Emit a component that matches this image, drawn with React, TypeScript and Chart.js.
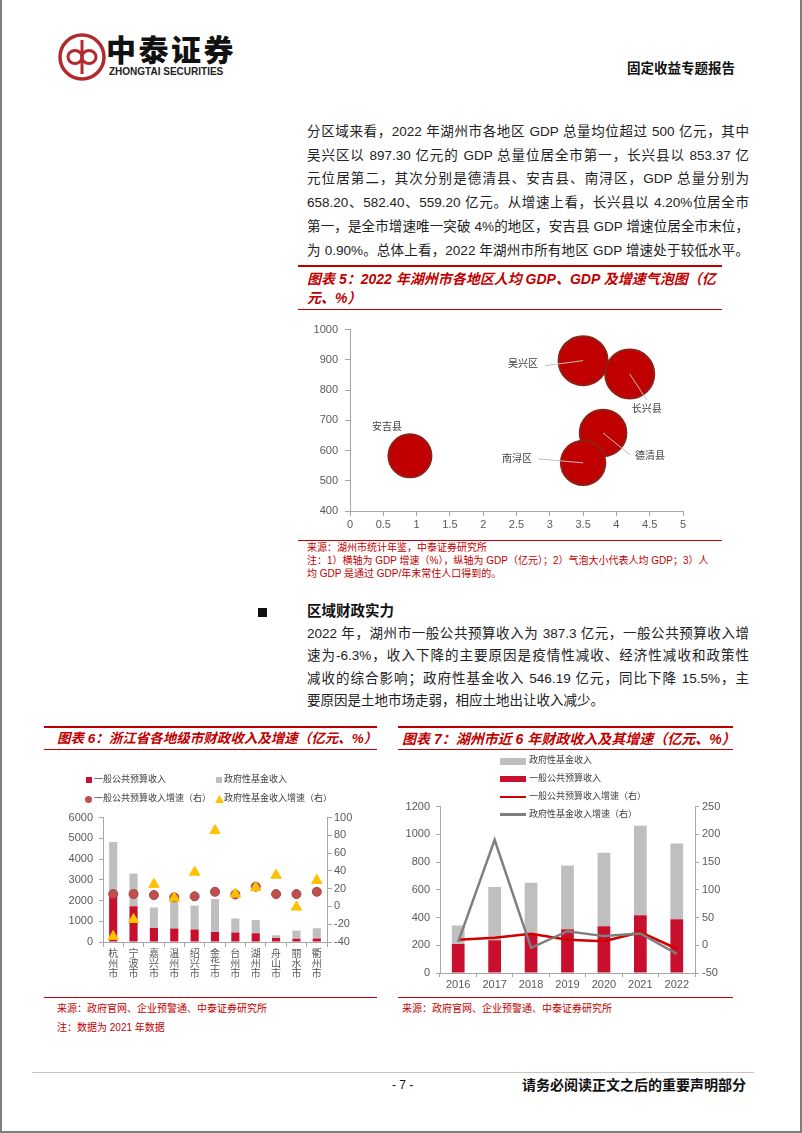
import React, { useEffect, useRef } from "react";
import { Chart, registerables } from "chart.js";

Chart.register(...registerables);

const FONT = '"Liberation Sans", "Noto Sans CJK SC", sans-serif';
const RED = "#C00000";
const AXIS = "#A6A6A6";
const TICK = "#595959";

// ---------- Chart 5 (bubble) ----------
const districts = ["吴兴区", "长兴县", "德清县", "南浔区", "安吉县"];
const gdpGrowth = [3.5, 4.2, 3.8, 3.5, 0.9]; // %
const gdpTotal = [897.3, 853.37, 658.2, 559.2, 582.4]; // 亿元
const gdpPerCapita = [13.5, 13.5, 12.2, 11.1, 10.4]; // 万元 (estimated)

// label placement (style, relative to bubble centre)
const bubbleLabelStyle = [
  { dx: -60, dy: 4, line: [-38, 5, 0, 0] },
  { dx: 17, dy: 35, line: [0, 0, 17, 26] },
  { dx: 47, dy: 23, line: [0, 0, 27, 22] },
  { dx: -66, dy: -4, line: [-45, -4, 0, 0] },
  { dx: -23, dy: -29, line: null as null | number[] },
];

// ---------- Chart 6 ----------
const cities = ["杭州市", "宁波市", "嘉兴市", "温州市", "绍兴市", "金华市", "台州市", "湖州市", "舟山市", "丽水市", "衢州市"];
const cityBudget = [2387, 1723, 676, 656, 597, 487, 455, 416, 190, 160, 165];
const cityFund = [2433, 1577, 990, 1344, 1163, 1586, 675, 644, 130, 390, 495];
const cityBudgetGrowth = [14, 14, 12.8, 10.3, 11.4, 16.5, 13.5, 22.3, 13.9, 13.9, 16.5];
const cityFundGrowth = [-33.7, -14.7, 24.9, 9.5, 38.5, 85.3, 13.9, 21.2, 35.2, -0.7, 29.3];

// ---------- Chart 7 ----------
const years = ["2016", "2017", "2018", "2019", "2020", "2021", "2022"];
const hzBudget = [210, 236, 283, 315, 338, 416, 387.3];
const hzFund = [132, 384, 367, 460, 529, 646, 546.19];
const hzBudgetGrowth = [10, 13.6, 20.7, 10, 7.1, 23.6, -6.3];
const hzFundGrowth = [6, 190, -4.7, 25.4, 16.5, 21.3, -15.5];

const para1 = [
  "分区域来看，2022 年湖州市各地区 GDP 总量均位超过 500 亿元，其中",
  "吴兴区以 897.30 亿元的 GDP 总量位居全市第一，长兴县以 853.37 亿",
  "元位居第二，其次分别是德清县、安吉县、南浔区，GDP 总量分别为",
  "658.20、582.40、559.20 亿元。从增速上看，长兴县以 4.20%位居全市",
  "第一，是全市增速唯一突破 4%的地区，安吉县 GDP 增速位居全市末位，",
  "为 0.90%。总体上看，2022 年湖州市所有地区 GDP 增速处于较低水平。",
];
const para2 = [
  "2022 年，湖州市一般公共预算收入为 387.3 亿元，一般公共预算收入增",
  "速为-6.3%，收入下降的主要原因是疫情性减收、经济性减收和政策性",
  "减收的综合影响；政府性基金收入 546.19 亿元，同比下降 15.5%，主",
  "要原因是土地市场走弱，相应土地出让收入减少。",
];

const tickFont = (size: number) => ({ family: FONT, size });

function bubbleRadius(v: number) {
  const max = Math.max(...gdpPerCapita);
  return 24.5 * Math.sqrt(v / max);
}

const bubbleLabelPlugin = {
  id: "bubbleLabels",
  afterDatasetsDraw(chart: any) {
    const ctx = chart.ctx;
    const meta = chart.getDatasetMeta(0);
    ctx.save();
    meta.data.forEach((el: any, i: number) => {
      const s = bubbleLabelStyle[i];
      const x = el.x;
      const y = el.y;
      if (s.line) {
        ctx.strokeStyle = "#BFBFBF";
        ctx.lineWidth = 1;
        ctx.beginPath();
        ctx.moveTo(x + s.line[0], y + s.line[1]);
        ctx.lineTo(x + s.line[2], y + s.line[3]);
        ctx.stroke();
      }
      ctx.fillStyle = "#404040";
      ctx.font = `10px ${FONT}`;
      ctx.textAlign = "center";
      ctx.textBaseline = "middle";
      ctx.fillText(districts[i], x + s.dx, y + s.dy);
    });
    ctx.restore();
  },
};

type TProps = { x: number; y: number; size: number; children?: any; style?: any };
const T = ({ x, y, size, children, style }: TProps) => (
  <div
    style={{
      position: "absolute",
      left: x,
      top: y - size * 0.75,
      fontSize: size,
      lineHeight: `${size * 1.5}px`,
      whiteSpace: "nowrap",
      ...style,
    }}
  >
    {children}
  </div>
);

const JLine = ({ x, y, w, size, text, justify }: any) => (
  <div
    style={{
      position: "absolute",
      left: x,
      top: y - size * 0.75,
      width: w,
      fontSize: size,
      lineHeight: `${size * 1.5}px`,
      textAlign: justify ? "justify" : "left",
      textAlignLast: justify ? "justify" : "auto",
      color: "#222",
    }}
  >
    {text}
  </div>
);

const HLine = ({ x1, x2, y, h, color }: any) => (
  <div style={{ position: "absolute", left: x1, top: y - h / 2, width: x2 - x1, height: h, background: color }} />
);

export default function App() {
  const c5 = useRef<HTMLCanvasElement>(null);
  const c6 = useRef<HTMLCanvasElement>(null);
  const c7 = useRef<HTMLCanvasElement>(null);

  useEffect(() => {
    const charts: Chart[] = [];

    // Chart 5
    charts.push(
      new Chart(c5.current!, {
        type: "bubble",
        data: {
          datasets: [
            {
              data: districts.map((_, i) => ({ x: gdpGrowth[i], y: gdpTotal[i], r: bubbleRadius(gdpPerCapita[i]) })),
              backgroundColor: "#C00000",
              borderColor: "#8E2016",
              borderWidth: 2,
              clip: false as any,
            },
          ],
        },
        options: {
          animation: false,
          responsive: false,
          layout: { autoPadding: false, padding: { top: 10, right: 17, left: 0, bottom: 0 } },
          plugins: { legend: { display: false }, tooltip: { enabled: false } },
          scales: {
            x: {
              type: "linear",
              min: 0,
              max: 5,
              ticks: { stepSize: 0.5, font: tickFont(11), color: TICK, padding: 2, callback: (v: any) => String(v) },
              grid: { drawOnChartArea: false, tickLength: 5, color: AXIS },
              border: { color: AXIS },
              afterFit: (s: any) => {
                s.height = 25;
              },
            },
            y: {
              min: 400,
              max: 1000,
              ticks: { stepSize: 100, font: tickFont(11), color: TICK, padding: 7, callback: (v: any) => String(v) },
              grid: { drawOnChartArea: false, tickLength: 5, color: AXIS },
              border: { color: AXIS },
              afterFit: (s: any) => {
                s.width = 50;
              },
            },
          },
        } as any,
        plugins: [bubbleLabelPlugin],
      })
    );

    // Chart 6
    charts.push(
      new Chart(c6.current!, {
        type: "bar",
        data: {
          labels: cities.map((c) => c.split("")),
          datasets: [
            {
              type: "line",
              label: "政府性基金收入增速（右）",
              data: cityFundGrowth,
              yAxisID: "y1",
              showLine: false,
              pointStyle: "triangle",
              pointRadius: 6,
              backgroundColor: "#FFC000",
              borderColor: "#FFC000",
              borderWidth: 1,
              order: 0,
            },
            {
              type: "line",
              label: "一般公共预算收入增速（右）",
              data: cityBudgetGrowth,
              yAxisID: "y1",
              showLine: false,
              pointStyle: "circle",
              pointRadius: 4.5,
              backgroundColor: "#C0504D",
              borderColor: "#A8403D",
              borderWidth: 1,
              order: 1,
            },
            {
              label: "一般公共预算收入",
              data: cityBudget,
              backgroundColor: "#C8102E",
              stack: "s",
              yAxisID: "y",
              barPercentage: 0.4,
              categoryPercentage: 1,
              order: 2,
            },
            {
              label: "政府性基金收入",
              data: cityFund,
              backgroundColor: "#BFBFBF",
              stack: "s",
              yAxisID: "y",
              barPercentage: 0.4,
              categoryPercentage: 1,
              order: 3,
            },
          ],
        } as any,
        options: {
          animation: false,
          responsive: false,
          layout: { autoPadding: false, padding: { top: 10, left: 0, right: 0, bottom: 0 } },
          plugins: { legend: { display: false }, tooltip: { enabled: false } },
          scales: {
            x: {
              stacked: true,
              ticks: { font: { family: FONT, size: 10, lineHeight: 1 }, color: TICK, padding: 2, maxRotation: 0, autoSkip: false },
              grid: { drawOnChartArea: false, tickLength: 5, color: AXIS, offset: true },
              border: { color: AXIS },
              afterFit: (s: any) => {
                s.height = 43;
              },
            },
            y: {
              stacked: true,
              position: "left",
              min: 0,
              max: 6000,
              ticks: { stepSize: 1000, font: tickFont(11), color: TICK, padding: 6, callback: (v: any) => String(v) },
              grid: { drawOnChartArea: false, tickLength: 4, color: AXIS },
              border: { color: AXIS },
              afterFit: (s: any) => {
                s.width = 58;
              },
            },
            y1: {
              position: "right",
              min: -40,
              max: 100,
              ticks: { stepSize: 20, font: tickFont(11), color: TICK, padding: 2, callback: (v: any) => String(v) },
              grid: { drawOnChartArea: false, tickLength: 5, color: AXIS },
              border: { color: AXIS },
              afterFit: (s: any) => {
                s.width = 58;
              },
            },
          },
        } as any,
      })
    );

    // Chart 7
    charts.push(
      new Chart(c7.current!, {
        type: "bar",
        data: {
          labels: years,
          datasets: [
            {
              type: "line",
              label: "政府性基金收入增速（右）",
              data: hzFundGrowth,
              yAxisID: "y1",
              borderColor: "#7F7F7F",
              backgroundColor: "#7F7F7F",
              borderWidth: 2.5,
              pointRadius: 0,
              tension: 0,
              order: 0,
            },
            {
              type: "line",
              label: "一般公共预算收入增速（右）",
              data: hzBudgetGrowth,
              yAxisID: "y1",
              borderColor: "#D00000",
              backgroundColor: "#D00000",
              borderWidth: 2.5,
              pointRadius: 0,
              tension: 0,
              order: 1,
            },
            {
              label: "一般公共预算收入",
              data: hzBudget,
              backgroundColor: "#C8102E",
              stack: "s",
              yAxisID: "y",
              barPercentage: 0.35,
              categoryPercentage: 1,
              order: 2,
            },
            {
              label: "政府性基金收入",
              data: hzFund,
              backgroundColor: "#BFBFBF",
              stack: "s",
              yAxisID: "y",
              barPercentage: 0.35,
              categoryPercentage: 1,
              order: 3,
            },
          ],
        } as any,
        options: {
          animation: false,
          responsive: false,
          layout: { autoPadding: false, padding: { top: 10, left: 0, right: 0, bottom: 0 } },
          plugins: { legend: { display: false }, tooltip: { enabled: false } },
          scales: {
            x: {
              stacked: true,
              ticks: { font: tickFont(11), color: TICK, padding: 1, maxRotation: 0, autoSkip: false },
              grid: { drawOnChartArea: false, tickLength: 4, color: AXIS, offset: true },
              border: { color: AXIS },
              afterFit: (s: any) => {
                s.height = 21;
              },
            },
            y: {
              stacked: true,
              position: "left",
              min: 0,
              max: 1200,
              ticks: { stepSize: 200, font: tickFont(11), color: TICK, padding: 6, callback: (v: any) => String(v) },
              grid: { drawOnChartArea: false, tickLength: 4, color: AXIS },
              border: { color: AXIS },
              afterFit: (s: any) => {
                s.width = 45;
              },
            },
            y1: {
              position: "right",
              min: -50,
              max: 250,
              ticks: { stepSize: 50, font: tickFont(11), color: TICK, padding: 3, callback: (v: any) => String(v) },
              grid: { drawOnChartArea: false, tickLength: 4, color: AXIS },
              border: { color: AXIS },
              afterFit: (s: any) => {
                s.width = 45;
              },
            },
          },
        } as any,
      })
    );

    return () => charts.forEach((c) => c.destroy());
  }, []);

  const titleStyle = { color: RED, fontWeight: 700, fontStyle: "italic" };
  const srcStyle = { color: RED };
  const legStyle = { color: "#404040" };

  return (
    <div
      style={{
        position: "absolute",
        left: 0,
        top: 0,
        width: 802,
        height: 1133,
        background: "#fff",
        overflow: "hidden",
        fontFamily: FONT,
        color: "#222",
      }}
    >
      {/* page border */}
      <div style={{ position: "absolute", left: 0, top: 0, width: 2, height: 1133, background: "#7F7F7F" }} />
      <div style={{ position: "absolute", left: 800, top: 0, width: 2, height: 1133, background: "#7F7F7F" }} />
      <div style={{ position: "absolute", left: 0, top: 1131, width: 802, height: 2, background: "#7F7F7F" }} />

      {/* header logo */}
      <svg width={50} height={50} style={{ position: "absolute", left: 57, top: 32 }} viewBox="0 0 50 50">
        <circle cx={25} cy={25} r={22} fill="none" stroke="#B22A2E" strokeWidth={3.5} />
        <line x1={25} y1={8} x2={25} y2={42} stroke="#B22A2E" strokeWidth={3} />
        <ellipse cx={18} cy={25} rx={7} ry={6.5} fill="none" stroke="#B22A2E" strokeWidth={3} />
        <ellipse cx={32} cy={25} rx={7} ry={6.5} fill="none" stroke="#B22A2E" strokeWidth={3} />
      </svg>
      <T x={106} y={50} size={30} style={{ fontWeight: 900, color: "#111", letterSpacing: 2.5 }}>
        中泰证券
      </T>
      <T x={109} y={71} size={10} style={{ fontWeight: 700, color: "#222" }}>
        ZHONGTAI SECURITIES
      </T>
      <T x={627} y={69} size={13.5} style={{ fontWeight: 700, color: "#111" }}>
        固定收益专题报告
      </T>

      {/* paragraph 1 */}
      {para1.map((t, i) => (
        <JLine key={"p1" + i} x={307} y={132 + i * 23.8} w={442} size={13.5} text={t} justify={true} />
      ))}

      {/* chart 5 title */}
      <HLine x1={298} x2={722} y={266} h={2} color={RED} />
      <T x={307} y={279} size={14} style={titleStyle}>
        图表 5：2022 年湖州市各地区人均 GDP、GDP 及增速气泡图（亿
      </T>
      <T x={307} y={298} size={14} style={titleStyle}>
        元、%）
      </T>
      <HLine x1={298} x2={722} y={309} h={1} color={RED} />

      <canvas ref={c5} width={400} height={220} style={{ position: "absolute", left: 300, top: 316, width: 400, height: 220 }} />

      <HLine x1={298} x2={722} y={540} h={1} color={RED} />
      <T x={307} y={547} size={10} style={srcStyle}>
        来源：湖州市统计年鉴，中泰证券研究所
      </T>
      <T x={307} y={560} size={10} style={srcStyle}>
        注：1）横轴为 GDP 增速（%），纵轴为 GDP（亿元）；2）气泡大小代表人均 GDP；3）人
      </T>
      <T x={307} y={573} size={10} style={srcStyle}>
        均 GDP 是通过 GDP/年末常住人口得到的。
      </T>

      {/* section */}
      <div style={{ position: "absolute", left: 258, top: 608, width: 9, height: 9, background: "#111" }} />
      <T x={307} y={612} size={14.5} style={{ fontWeight: 700, color: "#111" }}>
        区域财政实力
      </T>
      {para2.map((t, i) => (
        <JLine key={"p2" + i} x={307} y={634 + i * 22.5} w={442} size={13.5} text={t} justify={i < para2.length - 1} />
      ))}

      {/* chart 6 */}
      <HLine x1={44} x2={377} y={727} h={2} color={RED} />
      <T x={57} y={739} size={13.5} style={titleStyle}>
        图表 6：浙江省各地级市财政收入及增速（亿元、%）
      </T>
      <HLine x1={44} x2={377} y={749} h={1} color={RED} />

      <canvas ref={c6} width={340} height={180} style={{ position: "absolute", left: 45, top: 805, width: 340, height: 180 }} />

      <div style={{ position: "absolute", left: 86, top: 777, width: 6, height: 6, background: "#C8102E" }} />
      <T x={94} y={780} size={9} style={legStyle}>
        一般公共预算收入
      </T>
      <div style={{ position: "absolute", left: 216, top: 777, width: 6, height: 6, background: "#BFBFBF" }} />
      <T x={224} y={780} size={9} style={legStyle}>
        政府性基金收入
      </T>
      <div style={{ position: "absolute", left: 85, top: 795.5, width: 7, height: 7, borderRadius: "50%", background: "#C0504D" }} />
      <T x={94} y={799} size={9} style={legStyle}>
        一般公共预算收入增速（右）
      </T>
      <svg width={9} height={8} style={{ position: "absolute", left: 215, top: 795 }}>
        <polygon points="4.5,0 9,8 0,8" fill="#FFC000" />
      </svg>
      <T x={224} y={799} size={9} style={legStyle}>
        政府性基金收入增速（右）
      </T>

      <HLine x1={44} x2={377} y={997} h={1} color={RED} />
      <T x={57} y={1008} size={10} style={srcStyle}>
        来源：政府官网、企业预警通、中泰证券研究所
      </T>
      <T x={57} y={1027} size={10} style={srcStyle}>
        注：数据为 2021 年数据
      </T>

      {/* chart 7 */}
      <HLine x1={398} x2={733} y={727} h={2} color={RED} />
      <T x={402} y={739} size={14} style={titleStyle}>
        图表 7：湖州市近 6 年财政收入及其增速（亿元、%）
      </T>
      <HLine x1={398} x2={733} y={749} h={1} color={RED} />

      <canvas ref={c7} width={345} height={200} style={{ position: "absolute", left: 395, top: 794, width: 345, height: 200 }} />

      <div style={{ position: "absolute", left: 500, top: 758, width: 26, height: 6.5, background: "#BFBFBF" }} />
      <T x={529} y={761} size={9} style={legStyle}>
        政府性基金收入
      </T>
      <div style={{ position: "absolute", left: 500, top: 775.5, width: 26, height: 6, background: "#C8102E" }} />
      <T x={529} y={778.5} size={9} style={legStyle}>
        一般公共预算收入
      </T>
      <div style={{ position: "absolute", left: 500, top: 795.5, width: 26, height: 2.5, background: "#D00000" }} />
      <T x={529} y={797} size={9} style={legStyle}>
        一般公共预算收入增速（右）
      </T>
      <div style={{ position: "absolute", left: 500, top: 813, width: 26, height: 2.5, background: "#7F7F7F" }} />
      <T x={529} y={814.5} size={9} style={legStyle}>
        政府性基金收入增速（右）
      </T>

      <HLine x1={398} x2={733} y={997} h={1} color={RED} />
      <T x={402} y={1008} size={10} style={srcStyle}>
        来源：政府官网、企业预警通、中泰证券研究所
      </T>

      {/* footer */}
      <HLine x1={32} x2={754} y={1072} h={1} color="#C8C4BC" />
      <T x={392} y={1085} size={12} style={{ color: "#111" }}>
        - 7 -
      </T>
      <T x={522} y={1085} size={14} style={{ fontWeight: 700, color: "#111" }}>
        请务必阅读正文之后的重要声明部分
      </T>
    </div>
  );
}
